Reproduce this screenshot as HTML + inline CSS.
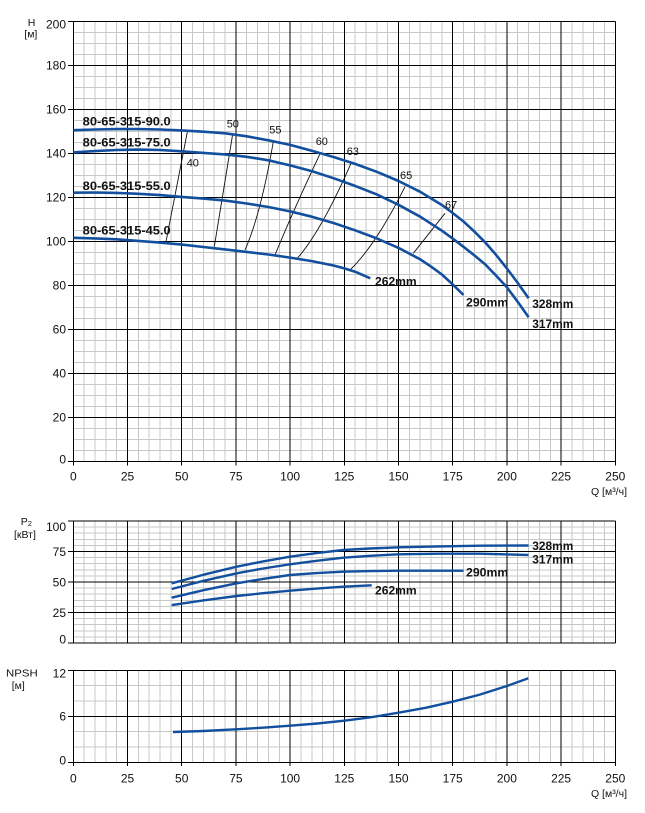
<!DOCTYPE html>
<html>
<head>
<meta charset="utf-8">
<style>
html,body{margin:0;padding:0;background:#fff;}
svg{display:block;}
text{font-family:"Liberation Sans",sans-serif;fill:#111;}
.t{font-size:12px;}
.u{font-size:10.5px;}
.b{font-size:12px;font-weight:bold;}
.e{font-size:11px;}
</style>
</head>
<body>
<svg width="645" height="813" viewBox="0 0 645 813" xmlns="http://www.w3.org/2000/svg">
<rect width="645" height="813" fill="#fff"/>

<!-- ============ TOP CHART (H) ============ -->
<g shape-rendering="crispEdges" fill="none">
  <path stroke="#c8c8c8" stroke-width="1" d="M84.14 21.3V461.3M94.98 21.3V461.3M105.82 21.3V461.3M116.66 21.3V461.3M138.34 21.3V461.3M149.18 21.3V461.3M160.02 21.3V461.3M170.86 21.3V461.3M192.54 21.3V461.3M203.38 21.3V461.3M214.22 21.3V461.3M225.06 21.3V461.3M246.74 21.3V461.3M257.58 21.3V461.3M268.42 21.3V461.3M279.26 21.3V461.3M300.94 21.3V461.3M311.78 21.3V461.3M322.62 21.3V461.3M333.46 21.3V461.3M355.14 21.3V461.3M365.98 21.3V461.3M376.82 21.3V461.3M387.66 21.3V461.3M409.34 21.3V461.3M420.18 21.3V461.3M431.02 21.3V461.3M441.86 21.3V461.3M463.54 21.3V461.3M474.38 21.3V461.3M485.22 21.3V461.3M496.06 21.3V461.3M517.74 21.3V461.3M528.58 21.3V461.3M539.42 21.3V461.3M550.26 21.3V461.3M571.94 21.3V461.3M582.78 21.3V461.3M593.62 21.3V461.3M604.46 21.3V461.3"/>
  <path stroke="#c8c8c8" stroke-width="1" d="M73.3 32.3H615.3M73.3 43.3H615.3M73.3 54.3H615.3M73.3 76.3H615.3M73.3 87.3H615.3M73.3 98.3H615.3M73.3 120.3H615.3M73.3 131.3H615.3M73.3 142.3H615.3M73.3 164.3H615.3M73.3 175.3H615.3M73.3 186.3H615.3M73.3 208.3H615.3M73.3 219.3H615.3M73.3 230.3H615.3M73.3 252.3H615.3M73.3 263.3H615.3M73.3 274.3H615.3M73.3 296.3H615.3M73.3 307.3H615.3M73.3 318.3H615.3M73.3 340.3H615.3M73.3 351.3H615.3M73.3 362.3H615.3M73.3 384.3H615.3M73.3 395.3H615.3M73.3 406.3H615.3M73.3 428.3H615.3M73.3 439.3H615.3M73.3 450.3H615.3"/>
  <path stroke="#000" stroke-width="1" d="M127.5 21.3V465.5M181.7 21.3V465.5M235.9 21.3V465.5M290.1 21.3V465.5M344.3 21.3V465.5M398.5 21.3V465.5M452.7 21.3V465.5M506.9 21.3V465.5M561.1 21.3V465.5M615.3 21.3V465.5M73.3 21.3V465.5M68 21.3H615.3M68 65.3H615.3M68 109.3H615.3M68 153.3H615.3M68 197.3H615.3M68 241.3H615.3M68 285.3H615.3M68 329.3H615.3M68 373.3H615.3M68 417.3H615.3M68 461.3H615.3"/>
</g>

<!-- efficiency lines -->
<g fill="none" stroke="#111" stroke-width="0.9">
  <path d="M187.7,130 L166,241.7"/>
  <path d="M232.7,134 L214.3,246.7"/>
  <path d="M273.3,141.7 Q260.85,214.15 245,250"/>
  <path d="M320.7,152.3 Q292.15,212.95 275,255"/>
  <path d="M351.7,161.7 Q322.1,230 297.3,258.3"/>
  <path d="M405,186.7 Q375.9,245 350,270"/>
  <path d="M445,213.3 L413.3,253.3"/>
</g>

<!-- H curves -->
<g fill="none" stroke="#124f9e" stroke-width="2.6" stroke-linejoin="round" stroke-linecap="butt">
  <polyline points="73.3,130.2 95.0,129.5 116.7,129.1 138.3,129.1 160.0,129.5 181.7,130.4 203.4,131.7 225.1,133.3 246.7,136.3 268.4,140.3 290.1,144.9 311.8,150.7 333.5,157.0 355.1,163.9 376.8,171.8 398.5,181.0 420.2,191.8 441.9,205.0 452.7,213.0 463.5,221.5 474.4,231.6 485.2,242.4 496.1,254.9 506.9,268.4 517.7,282.9 528.6,298.3"/>
  <polyline points="73.3,152.4 95.0,151.1 116.7,150.0 138.3,149.6 160.0,150.0 181.7,151.3 203.4,152.9 225.1,154.4 246.7,156.8 268.4,160.3 290.1,165.4 311.8,171.1 333.5,178.2 355.1,185.9 376.8,194.4 398.5,204.8 420.2,216.7 441.9,230.7 452.7,238.6 463.5,246.8 474.4,255.4 485.2,264.4 496.1,275.6 506.9,287.3 517.7,301.8 528.6,317.2"/>
  <polyline points="73.3,192.7 95.0,192.5 116.7,192.9 138.3,193.8 160.0,195.1 181.7,196.9 203.4,198.6 225.1,200.6 246.7,203.5 268.4,207.0 290.1,211.4 311.8,216.7 333.5,223.0 355.1,230.3 376.8,238.4 398.5,247.9 420.2,259.3 431.0,266.6 441.9,274.5 452.7,284.4 463.5,295.0"/>
  <polyline points="73.3,237.8 95.0,238.4 116.7,239.3 138.3,240.9 160.0,242.6 181.7,244.6 203.4,247.0 225.1,249.4 246.7,251.9 268.4,254.5 290.1,257.6 311.8,261.1 333.5,265.5 344.3,268.4 355.1,271.7 370.3,278.3"/>
</g>

<!-- efficiency labels -->
<g class="e">
  <text x="186.7" y="166.5">40</text>
  <text x="226.7" y="127.5">50</text>
  <text x="269.3" y="133.3">55</text>
  <text x="315.7" y="145">60</text>
  <text x="346.7" y="155">63</text>
  <text x="400" y="179">65</text>
  <text x="445" y="208.3">67</text>
</g>

<!-- curve labels -->
<text class="b" x="82.7" y="125.7" textLength="88" lengthAdjust="spacingAndGlyphs">80-65-315-90.0</text>
<text class="b" x="82.7" y="146.5" textLength="88" lengthAdjust="spacingAndGlyphs">80-65-315-75.0</text>
<text class="b" x="82.7" y="190" textLength="88" lengthAdjust="spacingAndGlyphs">80-65-315-55.0</text>
<text class="b" x="82.7" y="234.3" textLength="88" lengthAdjust="spacingAndGlyphs">80-65-315-45.0</text>
<text class="b" x="375" y="285.5" textLength="41.7" lengthAdjust="spacingAndGlyphs">262mm</text>
<text class="b" x="466" y="306.5" textLength="42.3" lengthAdjust="spacingAndGlyphs">290mm</text>
<text class="b" x="532.3" y="308" textLength="41" lengthAdjust="spacingAndGlyphs">328mm</text>
<text class="b" x="532.3" y="328" textLength="41" lengthAdjust="spacingAndGlyphs">317mm</text>

<!-- top y labels -->
<g class="t" text-anchor="end">
  <text x="66" y="28.5">200</text>
  <text x="66" y="69.5">180</text>
  <text x="66" y="113.5">160</text>
  <text x="66" y="157.5">140</text>
  <text x="66" y="201.5">120</text>
  <text x="66" y="245.5">100</text>
  <text x="66" y="289.5">80</text>
  <text x="66" y="333.5">60</text>
  <text x="66" y="377.5">40</text>
  <text x="66" y="421.3">20</text>
  <text x="66" y="463.5">0</text>
</g>
<!-- top x labels -->
<g class="t" text-anchor="middle">
  <text x="73.3" y="480.7">0</text>
  <text x="127.5" y="480.7">25</text>
  <text x="181.7" y="480.7">50</text>
  <text x="235.9" y="480.7">75</text>
  <text x="290.1" y="480.7">100</text>
  <text x="344.3" y="480.7">125</text>
  <text x="398.5" y="480.7">150</text>
  <text x="452.7" y="480.7">175</text>
  <text x="506.9" y="480.7">200</text>
  <text x="561.1" y="480.7">225</text>
  <text x="615.3" y="480.7">250</text>
</g>
<text class="u" x="27.7" y="26">H</text>
<text class="u" x="24.3" y="37.5">[м]</text>
<text class="u" x="627" y="495" text-anchor="end">Q [м³/ч]</text>

<!-- ============ P2 CHART ============ -->
<g shape-rendering="crispEdges" fill="none">
  <path stroke="#c8c8c8" stroke-width="1" d="M84.14 521V643M94.98 521V643M105.82 521V643M116.66 521V643M138.34 521V643M149.18 521V643M160.02 521V643M170.86 521V643M192.54 521V643M203.38 521V643M214.22 521V643M225.06 521V643M246.74 521V643M257.58 521V643M268.42 521V643M279.26 521V643M300.94 521V643M311.78 521V643M322.62 521V643M333.46 521V643M355.14 521V643M365.98 521V643M376.82 521V643M387.66 521V643M409.34 521V643M420.18 521V643M431.02 521V643M441.86 521V643M463.54 521V643M474.38 521V643M485.22 521V643M496.06 521V643M517.74 521V643M528.58 521V643M539.42 521V643M550.26 521V643M571.94 521V643M582.78 521V643M593.62 521V643M604.46 521V643"/>
  <path stroke="#c8c8c8" stroke-width="1" d="M73.3 527.1H615.3M73.3 533.2H615.3M73.3 539.3H615.3M73.3 545.4H615.3M73.3 557.6H615.3M73.3 563.7H615.3M73.3 569.8H615.3M73.3 575.9H615.3M73.3 588.1H615.3M73.3 594.2H615.3M73.3 600.3H615.3M73.3 606.4H615.3M73.3 618.6H615.3M73.3 624.7H615.3M73.3 630.8H615.3M73.3 636.9H615.3"/>
  <path stroke="#000" stroke-width="1" d="M127.5 521V643M181.7 521V643M235.9 521V643M290.1 521V643M344.3 521V643M398.5 521V643M452.7 521V643M506.9 521V643M561.1 521V643M615.3 521V643M73.3 521V643M68 521H615.3M68 551.5H615.3M68 582H615.3M68 612.5H615.3M68 643H615.3"/>
</g>
<g fill="none" stroke="#124f9e" stroke-width="2.4" stroke-linejoin="round">
  <polyline points="171.7,583.3 204,574.6 236.7,566.7 263,561.4 290,556.7 316.6,553.1 343.3,550 370,548.5 398.3,547.3 439,546.4 480,545.7 528.6,545.5"/>
  <polyline points="171.7,589 204,580.7 236.7,573.3 263,568.5 290,564.3 316.6,560.8 343.3,557.7 370,555.8 398.3,554.3 439,553.7 480,553.7 528.6,555"/>
  <polyline points="171.7,597.7 204,590.1 236.7,583.3 263,578.9 290,575 316.6,573.1 343.3,571.7 370,571.1 398.3,570.7 463.5,570.7"/>
  <polyline points="171.7,605 204,600.3 236.7,596 263,593.2 290,590.7 316.6,588.6 343.3,586.7 371.7,585.3"/>
</g>
<text class="b" x="532.3" y="550" textLength="41" lengthAdjust="spacingAndGlyphs">328mm</text>
<text class="b" x="532.3" y="563.3" textLength="41" lengthAdjust="spacingAndGlyphs">317mm</text>
<text class="b" x="466" y="576.5" textLength="42.3" lengthAdjust="spacingAndGlyphs">290mm</text>
<text class="b" x="375" y="594.3" textLength="41.7" lengthAdjust="spacingAndGlyphs">262mm</text>
<g class="t" text-anchor="end">
  <text x="66" y="531">100</text>
  <text x="66" y="556">75</text>
  <text x="66" y="586.5">50</text>
  <text x="66" y="617">25</text>
  <text x="66" y="643.3">0</text>
</g>
<text class="u" x="20.7" y="525">P<tspan font-size="7.5" dy="1">2</tspan></text>
<text class="u" x="14" y="538">[кВт]</text>

<!-- ============ NPSH CHART ============ -->
<g shape-rendering="crispEdges" fill="none">
  <path stroke="#c8c8c8" stroke-width="1" d="M84.14 670.3V762.3M94.98 670.3V762.3M105.82 670.3V762.3M116.66 670.3V762.3M138.34 670.3V762.3M149.18 670.3V762.3M160.02 670.3V762.3M170.86 670.3V762.3M192.54 670.3V762.3M203.38 670.3V762.3M214.22 670.3V762.3M225.06 670.3V762.3M246.74 670.3V762.3M257.58 670.3V762.3M268.42 670.3V762.3M279.26 670.3V762.3M300.94 670.3V762.3M311.78 670.3V762.3M322.62 670.3V762.3M333.46 670.3V762.3M355.14 670.3V762.3M365.98 670.3V762.3M376.82 670.3V762.3M387.66 670.3V762.3M409.34 670.3V762.3M420.18 670.3V762.3M431.02 670.3V762.3M441.86 670.3V762.3M463.54 670.3V762.3M474.38 670.3V762.3M485.22 670.3V762.3M496.06 670.3V762.3M517.74 670.3V762.3M528.58 670.3V762.3M539.42 670.3V762.3M550.26 670.3V762.3M571.94 670.3V762.3M582.78 670.3V762.3M593.62 670.3V762.3M604.46 670.3V762.3"/>
  <path stroke="#c8c8c8" stroke-width="1" d="M73.3 685.6H615.3M73.3 701H615.3M73.3 731.6H615.3M73.3 747H615.3"/>
  <path stroke="#000" stroke-width="1" d="M127.5 670.3V766M181.7 670.3V766M235.9 670.3V766M290.1 670.3V766M344.3 670.3V766M398.5 670.3V766M452.7 670.3V766M506.9 670.3V766M561.1 670.3V766M615.3 670.3V766M73.3 670.3V766M68 670.3H615.3M68 716.3H615.3M68 762.3H615.3"/>
</g>
<polyline fill="none" stroke="#124f9e" stroke-width="2.4" stroke-linejoin="round" points="173,732 203.4,731 235.9,729.3 263,727.7 290.1,725.7 317.2,723.5 344.3,720.7 371.4,717.2 398.5,712.7 425.6,707.8 452.7,701.7 479.8,694.6 506.9,686 528.3,678.3"/>
<g class="t" text-anchor="end">
  <text x="66" y="677.7">12</text>
  <text x="66" y="720.3">6</text>
  <text x="66" y="764.3">0</text>
</g>
<g class="t" text-anchor="middle">
  <text x="73.3" y="782.5">0</text>
  <text x="127.5" y="782.5">25</text>
  <text x="181.7" y="782.5">50</text>
  <text x="235.9" y="782.5">75</text>
  <text x="290.1" y="782.5">100</text>
  <text x="344.3" y="782.5">125</text>
  <text x="398.5" y="782.5">150</text>
  <text x="452.7" y="782.5">175</text>
  <text x="506.9" y="782.5">200</text>
  <text x="561.1" y="782.5">225</text>
  <text x="615.3" y="782.5">250</text>
</g>
<text class="u" x="6" y="676.7" textLength="31.7" lengthAdjust="spacingAndGlyphs">NPSH</text>
<text class="u" x="11.7" y="689">[м]</text>
<text class="u" x="627" y="797" text-anchor="end">Q [м³/ч]</text>
</svg>
</body>
</html>
